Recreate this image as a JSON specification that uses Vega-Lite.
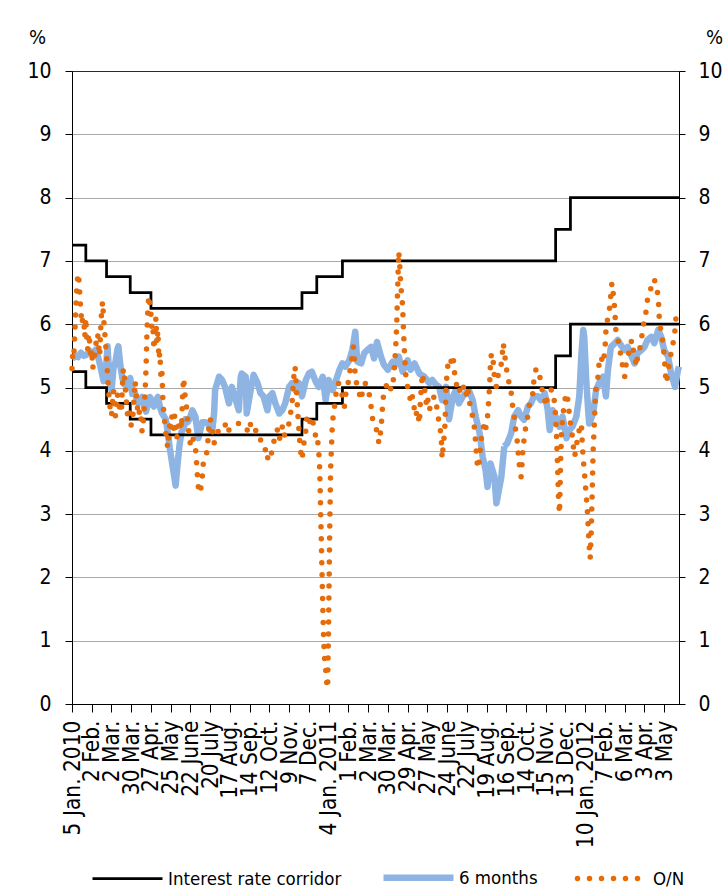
{
"$schema":"https://vega.github.io/schema/vega-lite/v6.json",
"width":607,"height":633,
"autosize":{"type":"none"},
"padding":{"left":72,"top":71,"right":45,"bottom":191},
"background":"white",
"config":{"font":"DejaVu Sans Condensed, DejaVu Sans","view":{"stroke":"black","strokeWidth":1}},
"datasets":{
"corr":[
{"s":"Interest rate corridor","b":"u","d":0,"v":7.25},{"s":"Interest rate corridor","b":"u","d":14,"v":7.0},{"s":"Interest rate corridor","b":"u","d":35,"v":6.75},{"s":"Interest rate corridor","b":"u","d":59,"v":6.5},{"s":"Interest rate corridor","b":"u","d":80,"v":6.25},{"s":"Interest rate corridor","b":"u","d":233,"v":6.5},{"s":"Interest rate corridor","b":"u","d":248,"v":6.75},{"s":"Interest rate corridor","b":"u","d":274,"v":7.0},{"s":"Interest rate corridor","b":"u","d":490,"v":7.5},{"s":"Interest rate corridor","b":"u","d":505,"v":8.0},{"s":"Interest rate corridor","b":"u","d":615,"v":8.0},
{"s":"Interest rate corridor","b":"l","d":0,"v":5.25},{"s":"Interest rate corridor","b":"l","d":14,"v":5.0},{"s":"Interest rate corridor","b":"l","d":35,"v":4.75},{"s":"Interest rate corridor","b":"l","d":59,"v":4.5},{"s":"Interest rate corridor","b":"l","d":80,"v":4.25},{"s":"Interest rate corridor","b":"l","d":233,"v":4.5},{"s":"Interest rate corridor","b":"l","d":248,"v":4.75},{"s":"Interest rate corridor","b":"l","d":274,"v":5.0},{"s":"Interest rate corridor","b":"l","d":490,"v":5.5},{"s":"Interest rate corridor","b":"l","d":505,"v":6.0},{"s":"Interest rate corridor","b":"l","d":615,"v":6.0}
],
"m6":[
{"s":"6 months","d":0,"v":5.45},{"s":"6 months","d":3,"v":5.5},{"s":"6 months","d":6,"v":5.48},{"s":"6 months","d":9,"v":5.55},{"s":"6 months","d":12,"v":5.5},{"s":"6 months","d":15,"v":5.52},{"s":"6 months","d":18,"v":5.58},{"s":"6 months","d":21,"v":5.5},{"s":"6 months","d":24,"v":5.6},{"s":"6 months","d":27,"v":5.45},{"s":"6 months","d":30,"v":5.25},{"s":"6 months","d":32,"v":5.1},{"s":"6 months","d":34,"v":5.2},{"s":"6 months","d":36,"v":5.65},{"s":"6 months","d":38,"v":5.1},{"s":"6 months","d":40,"v":4.95},{"s":"6 months","d":42,"v":5.3},{"s":"6 months","d":44,"v":5.4},{"s":"6 months","d":46,"v":5.6},{"s":"6 months","d":47,"v":5.65},{"s":"6 months","d":49,"v":5.35},{"s":"6 months","d":51,"v":5.15},{"s":"6 months","d":53,"v":5.05},{"s":"6 months","d":55,"v":5.1},{"s":"6 months","d":57,"v":5.0},{"s":"6 months","d":59,"v":5.15},{"s":"6 months","d":61,"v":4.9},{"s":"6 months","d":63,"v":4.95},{"s":"6 months","d":65,"v":4.85},{"s":"6 months","d":67,"v":4.75},{"s":"6 months","d":69,"v":4.8},{"s":"6 months","d":71,"v":4.85},{"s":"6 months","d":73,"v":4.7},{"s":"6 months","d":75,"v":4.62},{"s":"6 months","d":77,"v":4.75},{"s":"6 months","d":79,"v":4.85},{"s":"6 months","d":81,"v":4.75},{"s":"6 months","d":83,"v":4.7},{"s":"6 months","d":85,"v":4.8},{"s":"6 months","d":87,"v":4.85},{"s":"6 months","d":89,"v":4.7},{"s":"6 months","d":91,"v":4.6},{"s":"6 months","d":93,"v":4.55},{"s":"6 months","d":95,"v":4.5},{"s":"6 months","d":97,"v":4.3},{"s":"6 months","d":99,"v":4.05},{"s":"6 months","d":101,"v":3.85},{"s":"6 months","d":103,"v":3.65},{"s":"6 months","d":105,"v":3.45},{"s":"6 months","d":107,"v":3.8},{"s":"6 months","d":109,"v":4.1},{"s":"6 months","d":111,"v":4.3},{"s":"6 months","d":113,"v":4.35},{"s":"6 months","d":115,"v":4.5},{"s":"6 months","d":117,"v":4.45},{"s":"6 months","d":119,"v":4.5},
{"s":"6 months","d":122,"v":4.64},{"s":"6 months","d":125,"v":4.54},{"s":"6 months","d":128,"v":4.2},{"s":"6 months","d":132,"v":4.45},{"s":"6 months","d":135,"v":4.45},{"s":"6 months","d":138,"v":4.43},{"s":"6 months","d":140,"v":4.33},{"s":"6 months","d":142,"v":4.3},{"s":"6 months","d":144,"v":4.6},{"s":"6 months","d":145,"v":4.96},{"s":"6 months","d":149,"v":5.17},{"s":"6 months","d":152,"v":5.12},{"s":"6 months","d":155,"v":5.01},{"s":"6 months","d":159,"v":4.75},{"s":"6 months","d":162,"v":5.01},{"s":"6 months","d":166,"v":4.8},{"s":"6 months","d":169,"v":4.64},{"s":"6 months","d":171,"v":5.17},{"s":"6 months","d":172,"v":5.22},{"s":"6 months","d":176,"v":5.17},{"s":"6 months","d":177,"v":4.59},{"s":"6 months","d":181,"v":4.96},{"s":"6 months","d":184,"v":5.2},{"s":"6 months","d":188,"v":5.07},{"s":"6 months","d":191,"v":4.91},{"s":"6 months","d":194,"v":4.86},{"s":"6 months","d":198,"v":4.64},{"s":"6 months","d":200,"v":4.86},{"s":"6 months","d":203,"v":4.91},{"s":"6 months","d":206,"v":4.75},{"s":"6 months","d":210,"v":4.59},{"s":"6 months","d":213,"v":4.64},{"s":"6 months","d":216,"v":4.75},{"s":"6 months","d":220,"v":5.01},{"s":"6 months","d":223,"v":5.07},{"s":"6 months","d":226,"v":4.96},{"s":"6 months","d":230,"v":5.07},{"s":"6 months","d":233,"v":4.86},{"s":"6 months","d":237,"v":5.12},{"s":"6 months","d":240,"v":5.22},{"s":"6 months","d":243,"v":5.25},
{"s":"6 months","d":247,"v":5.09},{"s":"6 months","d":250,"v":5.01},{"s":"6 months","d":254,"v":5.17},{"s":"6 months","d":257,"v":4.8},{"s":"6 months","d":260,"v":5.12},{"s":"6 months","d":264,"v":4.96},{"s":"6 months","d":267,"v":5.09},{"s":"6 months","d":271,"v":5.28},{"s":"6 months","d":274,"v":5.38},{"s":"6 months","d":277,"v":5.33},{"s":"6 months","d":281,"v":5.43},{"s":"6 months","d":284,"v":5.59},{"s":"6 months","d":287,"v":5.88},{"s":"6 months","d":289,"v":5.41},{"s":"6 months","d":293,"v":5.38},{"s":"6 months","d":296,"v":5.54},{"s":"6 months","d":299,"v":5.59},{"s":"6 months","d":303,"v":5.64},{"s":"6 months","d":306,"v":5.46},{"s":"6 months","d":309,"v":5.72},{"s":"6 months","d":313,"v":5.49},{"s":"6 months","d":316,"v":5.36},{"s":"6 months","d":320,"v":5.28},{"s":"6 months","d":325,"v":5.41},{"s":"6 months","d":328,"v":5.36},{"s":"6 months","d":331,"v":5.49},{"s":"6 months","d":335,"v":5.25},{"s":"6 months","d":340,"v":5.43},{"s":"6 months","d":343,"v":5.28},{"s":"6 months","d":347,"v":5.38},{"s":"6 months","d":352,"v":5.22},{"s":"6 months","d":357,"v":5.17},{"s":"6 months","d":362,"v":5.07},{"s":"6 months","d":365,"v":5.12},
{"s":"6 months","d":369,"v":5.04},{"s":"6 months","d":372,"v":5.01},{"s":"6 months","d":375,"v":4.8},{"s":"6 months","d":379,"v":5.01},{"s":"6 months","d":382,"v":4.5},{"s":"6 months","d":386,"v":4.86},{"s":"6 months","d":389,"v":4.96},{"s":"6 months","d":392,"v":4.75},{"s":"6 months","d":396,"v":4.86},{"s":"6 months","d":399,"v":4.91},{"s":"6 months","d":402,"v":4.96},{"s":"6 months","d":406,"v":4.8},{"s":"6 months","d":409,"v":4.54},{"s":"6 months","d":413,"v":4.28},{"s":"6 months","d":416,"v":3.91},{"s":"6 months","d":419,"v":3.7},{"s":"6 months","d":421,"v":3.43},{"s":"6 months","d":424,"v":3.8},{"s":"6 months","d":428,"v":3.59},{"s":"6 months","d":430,"v":3.17},{"s":"6 months","d":431,"v":3.25},{"s":"6 months","d":435,"v":3.59},{"s":"6 months","d":438,"v":4.07},{"s":"6 months","d":441,"v":4.12},{"s":"6 months","d":445,"v":4.28},{"s":"6 months","d":448,"v":4.54},{"s":"6 months","d":452,"v":4.64},{"s":"6 months","d":455,"v":4.54},{"s":"6 months","d":458,"v":4.49},{"s":"6 months","d":462,"v":4.7},{"s":"6 months","d":465,"v":4.75},{"s":"6 months","d":468,"v":4.86},{"s":"6 months","d":472,"v":4.86},{"s":"6 months","d":475,"v":4.8},{"s":"6 months","d":479,"v":4.91},{"s":"6 months","d":482,"v":4.64},{"s":"6 months","d":484,"v":4.33},{"s":"6 months","d":487,"v":4.64},
{"s":"6 months","d":490,"v":4.54},{"s":"6 months","d":494,"v":4.38},{"s":"6 months","d":497,"v":4.54},{"s":"6 months","d":501,"v":4.2},{"s":"6 months","d":504,"v":4.33},{"s":"6 months","d":507,"v":4.38},{"s":"6 months","d":511,"v":4.54},{"s":"6 months","d":514,"v":4.86},{"s":"6 months","d":516,"v":5.49},{"s":"6 months","d":518,"v":5.91},{"s":"6 months","d":519,"v":5.8},{"s":"6 months","d":521,"v":5.12},{"s":"6 months","d":523,"v":4.64},{"s":"6 months","d":524,"v":4.43},{"s":"6 months","d":528,"v":4.59},{"s":"6 months","d":531,"v":4.96},{"s":"6 months","d":534,"v":5.07},{"s":"6 months","d":538,"v":5.17},{"s":"6 months","d":541,"v":4.86},{"s":"6 months","d":543,"v":5.28},{"s":"6 months","d":546,"v":5.64},{"s":"6 months","d":550,"v":5.7},{"s":"6 months","d":553,"v":5.75},{"s":"6 months","d":556,"v":5.67},{"s":"6 months","d":560,"v":5.59},{"s":"6 months","d":563,"v":5.64},{"s":"6 months","d":567,"v":5.49},{"s":"6 months","d":570,"v":5.38},{"s":"6 months","d":573,"v":5.54},{"s":"6 months","d":577,"v":5.59},{"s":"6 months","d":580,"v":5.64},{"s":"6 months","d":583,"v":5.75},{"s":"6 months","d":587,"v":5.8},{"s":"6 months","d":590,"v":5.7},{"s":"6 months","d":594,"v":5.91},{"s":"6 months","d":597,"v":5.8},{"s":"6 months","d":600,"v":5.59},{"s":"6 months","d":604,"v":5.49},{"s":"6 months","d":607,"v":5.22},{"s":"6 months","d":611,"v":5.01},{"s":"6 months","d":614,"v":5.28},{"s":"6 months","d":615,"v":5.33}
],
"on":[
{"s":"O/N","d":0,"v":5.3},{"s":"O/N","d":1,"v":5.6},{"s":"O/N","d":2,"v":5.55},{"s":"O/N","d":3,"v":5.9},{"s":"O/N","d":4,"v":6.3},{"s":"O/N","d":5,"v":6.6},{"s":"O/N","d":6,"v":6.8},{"s":"O/N","d":7,"v":6.7},{"s":"O/N","d":8,"v":6.45},{"s":"O/N","d":9,"v":6.2},{"s":"O/N","d":10,"v":6.0},{"s":"O/N","d":11,"v":6.1},{"s":"O/N","d":12,"v":6.05},{"s":"O/N","d":13,"v":5.8},{"s":"O/N","d":14,"v":6.1},{"s":"O/N","d":15,"v":5.75},{"s":"O/N","d":16,"v":5.6},{"s":"O/N","d":17,"v":5.85},{"s":"O/N","d":18,"v":5.7},{"s":"O/N","d":19,"v":5.45},{"s":"O/N","d":20,"v":5.6},{"s":"O/N","d":21,"v":5.3},{"s":"O/N","d":23,"v":5.5},{"s":"O/N","d":25,"v":5.8},{"s":"O/N","d":26,"v":5.85},{"s":"O/N","d":27,"v":5.65},{"s":"O/N","d":28,"v":5.5},{"s":"O/N","d":29,"v":5.9},{"s":"O/N","d":30,"v":6.2},{"s":"O/N","d":31,"v":6.36},{"s":"O/N","d":32,"v":6.1},{"s":"O/N","d":33,"v":5.9},{"s":"O/N","d":34,"v":5.7},{"s":"O/N","d":35,"v":5.5},{"s":"O/N","d":36,"v":5.2},{"s":"O/N","d":37,"v":4.95},{"s":"O/N","d":38,"v":4.8},{"s":"O/N","d":39,"v":4.6},{"s":"O/N","d":40,"v":4.55},{"s":"O/N","d":41,"v":4.75},{"s":"O/N","d":42,"v":4.95},{"s":"O/N","d":43,"v":4.85},{"s":"O/N","d":44,"v":4.55},{"s":"O/N","d":45,"v":4.6},{"s":"O/N","d":46,"v":4.9},{"s":"O/N","d":48,"v":4.7},{"s":"O/N","d":50,"v":4.6},{"s":"O/N","d":51,"v":5.0},{"s":"O/N","d":52,"v":5.3},{"s":"O/N","d":53,"v":5.2},{"s":"O/N","d":54,"v":5.0},{"s":"O/N","d":55,"v":4.8},{"s":"O/N","d":56,"v":4.6},{"s":"O/N","d":57,"v":4.5},{"s":"O/N","d":58,"v":4.6},{"s":"O/N","d":59,"v":4.5},{"s":"O/N","d":60,"v":4.4},{"s":"O/N","d":62,"v":4.6},{"s":"O/N","d":63,"v":4.9},{"s":"O/N","d":64,"v":5.1},{"s":"O/N","d":65,"v":4.9},{"s":"O/N","d":66,"v":4.75},{"s":"O/N","d":67,"v":4.55},{"s":"O/N","d":68,"v":4.6},{"s":"O/N","d":69,"v":4.65},{"s":"O/N","d":70,"v":4.5},{"s":"O/N","d":71,"v":4.3},{"s":"O/N","d":72,"v":4.4},{"s":"O/N","d":73,"v":4.65},{"s":"O/N","d":74,"v":4.9},{"s":"O/N","d":75,"v":5.3},{"s":"O/N","d":76,"v":5.9},{"s":"O/N","d":77,"v":6.3},{"s":"O/N","d":78,"v":6.45},{"s":"O/N","d":79,"v":6.3},{"s":"O/N","d":80,"v":6.15},{"s":"O/N","d":81,"v":5.9},{"s":"O/N","d":82,"v":5.95},{"s":"O/N","d":83,"v":5.6},{"s":"O/N","d":84,"v":5.8},{"s":"O/N","d":85,"v":6.1},{"s":"O/N","d":86,"v":5.7},{"s":"O/N","d":87,"v":5.9},{"s":"O/N","d":88,"v":5.45},{"s":"O/N","d":89,"v":5.55},{"s":"O/N","d":90,"v":5.2},{"s":"O/N","d":91,"v":5.3},{"s":"O/N","d":92,"v":4.85},{"s":"O/N","d":93,"v":4.6},{"s":"O/N","d":94,"v":4.45},{"s":"O/N","d":95,"v":4.3},{"s":"O/N","d":96,"v":4.15},{"s":"O/N","d":97,"v":4.05},{"s":"O/N","d":98,"v":4.25},{"s":"O/N","d":99,"v":4.4},{"s":"O/N","d":100,"v":4.3},{"s":"O/N","d":101,"v":4.55},{"s":"O/N","d":102,"v":4.45},{"s":"O/N","d":103,"v":4.35},{"s":"O/N","d":104,"v":4.55},{"s":"O/N","d":105,"v":4.35},{"s":"O/N","d":106,"v":4.2},{"s":"O/N","d":107,"v":4.25},{"s":"O/N","d":108,"v":4.4},{"s":"O/N","d":109,"v":4.3},{"s":"O/N","d":110,"v":4.5},{"s":"O/N","d":111,"v":4.35},{"s":"O/N","d":112,"v":4.85},{"s":"O/N","d":113,"v":5.15},{"s":"O/N","d":114,"v":5.0},{"s":"O/N","d":115,"v":4.75},{"s":"O/N","d":116,"v":4.7},{"s":"O/N","d":117,"v":4.5},{"s":"O/N","d":118,"v":4.35},{"s":"O/N","d":119,"v":4.2},{"s":"O/N","d":120,"v":4.1},
{"s":"O/N","d":122,"v":4.22},{"s":"O/N","d":125,"v":4.07},{"s":"O/N","d":126,"v":3.86},{"s":"O/N","d":127,"v":3.62},{"s":"O/N","d":128,"v":3.43},{"s":"O/N","d":130,"v":3.33},{"s":"O/N","d":132,"v":3.59},{"s":"O/N","d":133,"v":3.8},{"s":"O/N","d":135,"v":3.86},{"s":"O/N","d":137,"v":4.01},{"s":"O/N","d":138,"v":4.22},{"s":"O/N","d":139,"v":4.43},{"s":"O/N","d":140,"v":4.51},{"s":"O/N","d":142,"v":4.33},{"s":"O/N","d":144,"v":4.12},{"s":"O/N","d":145,"v":4.22},{"s":"O/N","d":149,"v":4.33},{"s":"O/N","d":152,"v":4.38},{"s":"O/N","d":155,"v":4.43},{"s":"O/N","d":157,"v":4.28},{"s":"O/N","d":159,"v":4.33},{"s":"O/N","d":162,"v":4.38},{"s":"O/N","d":166,"v":4.43},{"s":"O/N","d":169,"v":4.43},{"s":"O/N","d":172,"v":4.43},{"s":"O/N","d":176,"v":4.38},{"s":"O/N","d":179,"v":4.28},{"s":"O/N","d":181,"v":4.43},{"s":"O/N","d":182,"v":4.33},{"s":"O/N","d":186,"v":4.33},{"s":"O/N","d":189,"v":4.17},{"s":"O/N","d":193,"v":4.17},{"s":"O/N","d":196,"v":4.01},{"s":"O/N","d":198,"v":3.86},{"s":"O/N","d":199,"v":3.96},{"s":"O/N","d":201,"v":3.91},{"s":"O/N","d":203,"v":4.01},{"s":"O/N","d":204,"v":4.12},{"s":"O/N","d":206,"v":4.22},{"s":"O/N","d":208,"v":4.33},{"s":"O/N","d":210,"v":4.17},{"s":"O/N","d":213,"v":4.38},{"s":"O/N","d":215,"v":4.22},{"s":"O/N","d":216,"v":4.33},{"s":"O/N","d":220,"v":4.43},{"s":"O/N","d":221,"v":4.54},{"s":"O/N","d":223,"v":4.75},{"s":"O/N","d":224,"v":5.01},{"s":"O/N","d":225,"v":5.22},{"s":"O/N","d":226,"v":5.33},{"s":"O/N","d":227,"v":5.1},{"s":"O/N","d":228,"v":4.8},{"s":"O/N","d":229,"v":4.54},{"s":"O/N","d":230,"v":4.3},{"s":"O/N","d":231,"v":4.1},{"s":"O/N","d":232,"v":3.95},{"s":"O/N","d":233,"v":3.86},{"s":"O/N","d":235,"v":4.12},{"s":"O/N","d":237,"v":4.33},{"s":"O/N","d":238,"v":4.54},{"s":"O/N","d":240,"v":4.43},{"s":"O/N","d":243,"v":4.54},{"s":"O/N","d":245,"v":4.38},{"s":"O/N","d":247,"v":4.22},{"s":"O/N","d":248,"v":4.12},{"s":"O/N","d":249,"v":4.15},{"s":"O/N","d":250,"v":4.0},{"s":"O/N","d":251,"v":3.7},{"s":"O/N","d":252,"v":3.0},{"s":"O/N","d":253,"v":2.3},{"s":"O/N","d":254,"v":1.6},{"s":"O/N","d":255,"v":1.0},{"s":"O/N","d":256,"v":0.7},{"s":"O/N","d":257,"v":0.55},{"s":"O/N","d":258,"v":0.35},{"s":"O/N","d":259,"v":0.25},{"s":"O/N","d":260,"v":1.3},{"s":"O/N","d":261,"v":2.6},{"s":"O/N","d":262,"v":3.7},{"s":"O/N","d":263,"v":4.1},{"s":"O/N","d":264,"v":4.5},{"s":"O/N","d":265,"v":4.54},{"s":"O/N","d":267,"v":4.86},{"s":"O/N","d":269,"v":5.01},{"s":"O/N","d":270,"v":5.07},{"s":"O/N","d":272,"v":4.96},{"s":"O/N","d":274,"v":4.86},{"s":"O/N","d":276,"v":4.7},{"s":"O/N","d":277,"v":4.86},{"s":"O/N","d":279,"v":5.01},{"s":"O/N","d":281,"v":5.17},{"s":"O/N","d":282,"v":5.33},{"s":"O/N","d":284,"v":5.49},{"s":"O/N","d":285,"v":5.64},{"s":"O/N","d":286,"v":5.49},{"s":"O/N","d":287,"v":5.17},{"s":"O/N","d":289,"v":5.01},{"s":"O/N","d":291,"v":4.91},{"s":"O/N","d":293,"v":4.8},{"s":"O/N","d":294,"v":4.91},{"s":"O/N","d":297,"v":5.07},{"s":"O/N","d":299,"v":5.01},{"s":"O/N","d":301,"v":4.91},{"s":"O/N","d":303,"v":4.7},{"s":"O/N","d":304,"v":4.54},{"s":"O/N","d":306,"v":4.43},{"s":"O/N","d":308,"v":4.38},{"s":"O/N","d":309,"v":4.28},{"s":"O/N","d":311,"v":4.12},{"s":"O/N","d":313,"v":4.33},{"s":"O/N","d":314,"v":4.54},{"s":"O/N","d":315,"v":4.8},{"s":"O/N","d":316,"v":4.91},{"s":"O/N","d":318,"v":5.01},{"s":"O/N","d":320,"v":5.09},{"s":"O/N","d":321,"v":5.01},{"s":"O/N","d":324,"v":4.96},{"s":"O/N","d":326,"v":5.17},{"s":"O/N","d":328,"v":5.64},{"s":"O/N","d":329,"v":6.0},{"s":"O/N","d":330,"v":6.6},{"s":"O/N","d":331,"v":7.15},{"s":"O/N","d":332,"v":6.96},{"s":"O/N","d":333,"v":6.64},{"s":"O/N","d":335,"v":6.28},{"s":"O/N","d":336,"v":5.85},{"s":"O/N","d":337,"v":5.5},{"s":"O/N","d":338,"v":5.22},{"s":"O/N","d":340,"v":5.01},{"s":"O/N","d":342,"v":4.91},{"s":"O/N","d":343,"v":4.75},{"s":"O/N","d":345,"v":4.86},{"s":"O/N","d":347,"v":4.64},{"s":"O/N","d":348,"v":4.54},{"s":"O/N","d":350,"v":4.64},{"s":"O/N","d":352,"v":4.43},{"s":"O/N","d":353,"v":4.8},{"s":"O/N","d":355,"v":5.22},{"s":"O/N","d":357,"v":5.01},{"s":"O/N","d":359,"v":4.75},{"s":"O/N","d":360,"v":4.86},{"s":"O/N","d":362,"v":4.64},{"s":"O/N","d":365,"v":4.8},
{"s":"O/N","d":367,"v":4.86},{"s":"O/N","d":369,"v":4.75},{"s":"O/N","d":370,"v":4.64},{"s":"O/N","d":372,"v":4.43},{"s":"O/N","d":374,"v":4.25},{"s":"O/N","d":375,"v":3.88},{"s":"O/N","d":377,"v":4.22},{"s":"O/N","d":378,"v":4.43},{"s":"O/N","d":379,"v":5.01},{"s":"O/N","d":380,"v":5.22},{"s":"O/N","d":381,"v":5.38},{"s":"O/N","d":382,"v":5.46},{"s":"O/N","d":384,"v":5.41},{"s":"O/N","d":386,"v":5.51},{"s":"O/N","d":387,"v":5.33},{"s":"O/N","d":388,"v":5.17},{"s":"O/N","d":390,"v":5.01},{"s":"O/N","d":392,"v":4.91},{"s":"O/N","d":394,"v":5.01},{"s":"O/N","d":396,"v":5.07},{"s":"O/N","d":397,"v":4.96},{"s":"O/N","d":399,"v":4.86},{"s":"O/N","d":401,"v":5.01},{"s":"O/N","d":402,"v":4.86},{"s":"O/N","d":404,"v":4.64},{"s":"O/N","d":406,"v":4.54},{"s":"O/N","d":408,"v":4.33},{"s":"O/N","d":409,"v":4.12},{"s":"O/N","d":410,"v":3.91},{"s":"O/N","d":411,"v":3.72},{"s":"O/N","d":413,"v":3.86},{"s":"O/N","d":414,"v":4.12},{"s":"O/N","d":416,"v":4.33},{"s":"O/N","d":418,"v":4.43},{"s":"O/N","d":419,"v":4.33},{"s":"O/N","d":421,"v":4.54},{"s":"O/N","d":422,"v":4.75},{"s":"O/N","d":423,"v":5.0},{"s":"O/N","d":424,"v":5.38},{"s":"O/N","d":425,"v":5.54},{"s":"O/N","d":427,"v":5.38},{"s":"O/N","d":428,"v":5.17},{"s":"O/N","d":430,"v":5.01},{"s":"O/N","d":431,"v":5.17},{"s":"O/N","d":433,"v":5.22},{"s":"O/N","d":435,"v":5.38},{"s":"O/N","d":436,"v":5.54},{"s":"O/N","d":437,"v":5.7},{"s":"O/N","d":438,"v":5.54},{"s":"O/N","d":440,"v":5.36},{"s":"O/N","d":441,"v":5.17},{"s":"O/N","d":443,"v":5.07},{"s":"O/N","d":445,"v":4.91},{"s":"O/N","d":446,"v":4.75},{"s":"O/N","d":448,"v":4.56},{"s":"O/N","d":449,"v":4.38},{"s":"O/N","d":451,"v":4.17},{"s":"O/N","d":452,"v":3.99},{"s":"O/N","d":453,"v":3.8},{"s":"O/N","d":455,"v":3.59},{"s":"O/N","d":456,"v":3.8},{"s":"O/N","d":457,"v":4.07},{"s":"O/N","d":459,"v":4.28},{"s":"O/N","d":460,"v":4.43},{"s":"O/N","d":462,"v":4.56},{"s":"O/N","d":463,"v":4.7},{"s":"O/N","d":465,"v":4.8},{"s":"O/N","d":467,"v":4.91},{"s":"O/N","d":468,"v":5.12},{"s":"O/N","d":470,"v":5.28},{"s":"O/N","d":472,"v":5.3},{"s":"O/N","d":474,"v":5.17},{"s":"O/N","d":475,"v":5.07},{"s":"O/N","d":477,"v":4.91},{"s":"O/N","d":479,"v":4.8},{"s":"O/N","d":480,"v":4.7},{"s":"O/N","d":482,"v":4.86},{"s":"O/N","d":484,"v":4.96},{"s":"O/N","d":487,"v":4.96},
{"s":"O/N","d":489,"v":4.75},{"s":"O/N","d":490,"v":4.54},{"s":"O/N","d":491,"v":4.2},{"s":"O/N","d":492,"v":3.75},{"s":"O/N","d":493,"v":3.2},{"s":"O/N","d":494,"v":3.01},{"s":"O/N","d":495,"v":3.8},{"s":"O/N","d":496,"v":4.33},{"s":"O/N","d":498,"v":4.64},{"s":"O/N","d":500,"v":4.86},{"s":"O/N","d":501,"v":4.91},{"s":"O/N","d":503,"v":4.75},{"s":"O/N","d":504,"v":4.54},{"s":"O/N","d":506,"v":4.33},{"s":"O/N","d":507,"v":4.22},{"s":"O/N","d":508,"v":4.07},{"s":"O/N","d":509,"v":3.91},{"s":"O/N","d":511,"v":4.01},{"s":"O/N","d":512,"v":4.22},{"s":"O/N","d":514,"v":4.33},{"s":"O/N","d":516,"v":4.43},{"s":"O/N","d":517,"v":4.12},{"s":"O/N","d":518,"v":3.86},{"s":"O/N","d":519,"v":3.7},{"s":"O/N","d":520,"v":3.49},{"s":"O/N","d":521,"v":3.3},{"s":"O/N","d":522,"v":3.1},{"s":"O/N","d":523,"v":2.8},{"s":"O/N","d":524,"v":2.5},{"s":"O/N","d":525,"v":2.3},{"s":"O/N","d":526,"v":2.7},{"s":"O/N","d":527,"v":3.3},{"s":"O/N","d":528,"v":4.0},{"s":"O/N","d":529,"v":4.35},{"s":"O/N","d":530,"v":4.75},{"s":"O/N","d":531,"v":5.01},{"s":"O/N","d":533,"v":5.17},{"s":"O/N","d":534,"v":5.38},{"s":"O/N","d":536,"v":5.49},{"s":"O/N","d":538,"v":5.38},{"s":"O/N","d":540,"v":5.59},{"s":"O/N","d":541,"v":5.91},{"s":"O/N","d":543,"v":6.12},{"s":"O/N","d":545,"v":6.28},{"s":"O/N","d":546,"v":6.49},{"s":"O/N","d":547,"v":6.65},{"s":"O/N","d":549,"v":6.4},{"s":"O/N","d":550,"v":6.2},{"s":"O/N","d":551,"v":5.91},{"s":"O/N","d":553,"v":5.75},{"s":"O/N","d":555,"v":5.64},{"s":"O/N","d":556,"v":5.49},{"s":"O/N","d":558,"v":5.33},{"s":"O/N","d":560,"v":5.17},{"s":"O/N","d":561,"v":5.33},{"s":"O/N","d":563,"v":5.49},{"s":"O/N","d":565,"v":5.59},{"s":"O/N","d":567,"v":5.75},{"s":"O/N","d":568,"v":5.64},{"s":"O/N","d":570,"v":5.49},{"s":"O/N","d":572,"v":5.33},{"s":"O/N","d":573,"v":5.49},{"s":"O/N","d":575,"v":5.59},{"s":"O/N","d":577,"v":5.75},{"s":"O/N","d":578,"v":5.91},{"s":"O/N","d":580,"v":6.07},{"s":"O/N","d":582,"v":6.23},{"s":"O/N","d":583,"v":6.38},{"s":"O/N","d":585,"v":6.49},{"s":"O/N","d":587,"v":6.59},{"s":"O/N","d":589,"v":6.7},{"s":"O/N","d":590,"v":6.71},{"s":"O/N","d":592,"v":6.59},{"s":"O/N","d":594,"v":6.44},{"s":"O/N","d":595,"v":6.1},{"s":"O/N","d":597,"v":5.85},{"s":"O/N","d":599,"v":5.7},{"s":"O/N","d":600,"v":5.49},{"s":"O/N","d":601,"v":5.28},{"s":"O/N","d":602,"v":5.07},{"s":"O/N","d":604,"v":5.22},{"s":"O/N","d":605,"v":5.38},{"s":"O/N","d":607,"v":5.54},{"s":"O/N","d":609,"v":5.7},{"s":"O/N","d":611,"v":5.91},{"s":"O/N","d":612,"v":6.12},{"s":"O/N","d":614,"v":6.23},{"s":"O/N","d":615,"v":6.2}
]
},
"encoding":{
"x":{"field":"d","type":"quantitative","scale":{"domain":[0,615],"nice":false,"zero":false},
"axis":{"values":[0,20,40,60,80,100,120,140,160,180,200,220,240,260,280,300,320,340,360,380,400,420,440,460,480,500,520,540,560,580,600],
"labelExpr":"['5 Jan. 2010','2 Feb.','2 Mar.','30 Mar.','27 Apr.','25 May','22 June','20 July','17 Aug.','14 Sep.','12 Oct.','9 Nov.','7 Dec.','4 Jan. 2011','1 Feb.','2 Mar.','30 Mar.','29 Apr.','27 May','24 June','22 July','19 Aug.','16 Sep.','14 Oct.','15 Nov.','13 Dec.','10 Jan. 2012','7 Feb.','6 Mar.','3 Apr.','3 May'][round(datum.value/20)]",
"labelAngle":-90,"labelFontSize":22.5,"labelColor":"black","labelOverlap":false,"labelFlush":false,"labelBound":false,"tickSize":8,"tickColor":"black","domainColor":"black","labelPadding":8,"grid":false,"title":null}},
"color":{"field":"s","type":"nominal","scale":{"domain":["Interest rate corridor","6 months","O/N"],"range":["#000000","#8DB4E2","#E46C0A"]},
"legend":{"orient":"none","legendX":17,"legendY":768,"direction":"horizontal","columns":3,"columnPadding":28,"symbolType":"stroke","symbolSize":4900,"labelFontSize":18.5,"labelColor":"black","labelOffset":2,"labelLimit":0,"title":null,
"encode":{"symbols":{"update":{"strokeCap":{"signal":"datum.label === 'O/N' ? 'round' : 'butt'"}}}}}},
"strokeDash":{"field":"s","type":"nominal","scale":{"domain":["Interest rate corridor","6 months","O/N"],"range":[[1,0],[1,0],[0,12]]}},
"strokeWidth":{"field":"s","type":"nominal","scale":{"type":"ordinal","domain":["Interest rate corridor","6 months","O/N"],"range":[2.75,6.5,5.5]}}
},
"layer":[
{"data":{"name":"m6"},"mark":{"type":"line","strokeJoin":"round"},
 "encoding":{"y":{"field":"v","type":"quantitative","scale":{"domain":[0,10],"nice":false},
 "axis":{"orient":"left","values":[0,1,2,3,4,5,6,7,8,9,10],"format":"d","title":"%","titleAngle":0,"titleX":-35,"titleY":-34,"titleAlign":"center","titleBaseline":"middle","titleFontSize":20,"titleFontWeight":"normal","titleColor":"black","labelFontSize":21,"labelColor":"black","tickSize":7,"tickColor":"black","labelPadding":14,"domainColor":"black","grid":true,"gridDash":[1,1],"gridColor":"#555555","gridOpacity":1}}}},
{"data":{"name":"corr"},"mark":{"type":"line","interpolate":"step-after"},
 "encoding":{"detail":{"field":"b"},"y":{"field":"v","type":"quantitative","scale":{"domain":[0,10],"nice":false},
 "axis":{"orient":"right","values":[0,1,2,3,4,5,6,7,8,9,10],"format":"d","title":"%","titleAngle":0,"titleX":35,"titleY":-34,"titleAlign":"center","titleBaseline":"middle","titleFontSize":20,"titleFontWeight":"normal","titleColor":"black","labelFontSize":21,"labelColor":"black","tickSize":6,"tickColor":"black","labelPadding":13,"domainColor":"black","grid":false}}}},
{"data":{"name":"on"},"mark":{"type":"line","strokeCap":"round"},
 "encoding":{"y":{"field":"v","type":"quantitative","scale":{"domain":[0,10],"nice":false},"axis":null}}}
],
"resolve":{"axis":{"y":"independent"}}
}
